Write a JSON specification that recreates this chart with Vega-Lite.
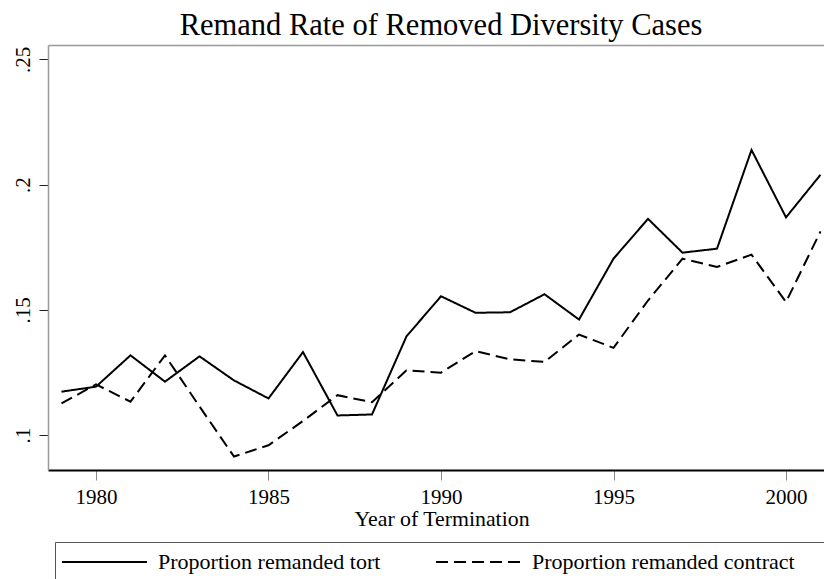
{
  "$schema": "https://vega.github.io/schema/vega-lite/v6.json",
  "width": 776,
  "height": 425,
  "autosize": {"type": "none"},
  "padding": {"left": 48, "top": 45, "right": 0, "bottom": 109},
  "background": "white",
  "config": {
    "view": {"stroke": null},
    "font": "Liberation Serif",
    "axis": {"labelFont": "Liberation Serif", "titleFont": "Liberation Serif", "grid": false}
  },
  "title": {
    "text": "Remand Rate of Removed Diversity Cases",
    "font": "Liberation Serif",
    "fontSize": 30.5,
    "fontWeight": "normal",
    "color": "#000000",
    "frame": "group",
    "anchor": "middle",
    "baseline": "alphabetic",
    "offset": -20,
    "dx": 5
  },
  "data": {
    "values": [
      {"year": 1979, "series": "Proportion remanded tort", "value": 0.1173},
      {"year": 1980, "series": "Proportion remanded tort", "value": 0.1193},
      {"year": 1981, "series": "Proportion remanded tort", "value": 0.1318},
      {"year": 1982, "series": "Proportion remanded tort", "value": 0.1213},
      {"year": 1983, "series": "Proportion remanded tort", "value": 0.1314},
      {"year": 1984, "series": "Proportion remanded tort", "value": 0.1218},
      {"year": 1985, "series": "Proportion remanded tort", "value": 0.1146},
      {"year": 1986, "series": "Proportion remanded tort", "value": 0.1331},
      {"year": 1987, "series": "Proportion remanded tort", "value": 0.1078},
      {"year": 1988, "series": "Proportion remanded tort", "value": 0.1082},
      {"year": 1989, "series": "Proportion remanded tort", "value": 0.1394},
      {"year": 1990, "series": "Proportion remanded tort", "value": 0.1554},
      {"year": 1991, "series": "Proportion remanded tort", "value": 0.1488},
      {"year": 1992, "series": "Proportion remanded tort", "value": 0.1490},
      {"year": 1993, "series": "Proportion remanded tort", "value": 0.1562},
      {"year": 1994, "series": "Proportion remanded tort", "value": 0.1461},
      {"year": 1995, "series": "Proportion remanded tort", "value": 0.1704},
      {"year": 1996, "series": "Proportion remanded tort", "value": 0.1863},
      {"year": 1997, "series": "Proportion remanded tort", "value": 0.1728},
      {"year": 1998, "series": "Proportion remanded tort", "value": 0.1744},
      {"year": 1999, "series": "Proportion remanded tort", "value": 0.2138},
      {"year": 2000, "series": "Proportion remanded tort", "value": 0.1869},
      {"year": 2001, "series": "Proportion remanded tort", "value": 0.2039},
      {"year": 1979, "series": "Proportion remanded contract", "value": 0.1126},
      {"year": 1980, "series": "Proportion remanded contract", "value": 0.1202},
      {"year": 1981, "series": "Proportion remanded contract", "value": 0.1133},
      {"year": 1982, "series": "Proportion remanded contract", "value": 0.1318},
      {"year": 1983, "series": "Proportion remanded contract", "value": 0.1114},
      {"year": 1984, "series": "Proportion remanded contract", "value": 0.0914},
      {"year": 1985, "series": "Proportion remanded contract", "value": 0.0959},
      {"year": 1986, "series": "Proportion remanded contract", "value": 0.1056},
      {"year": 1987, "series": "Proportion remanded contract", "value": 0.1159},
      {"year": 1988, "series": "Proportion remanded contract", "value": 0.1131},
      {"year": 1989, "series": "Proportion remanded contract", "value": 0.1258},
      {"year": 1990, "series": "Proportion remanded contract", "value": 0.1249},
      {"year": 1991, "series": "Proportion remanded contract", "value": 0.1335},
      {"year": 1992, "series": "Proportion remanded contract", "value": 0.1302},
      {"year": 1993, "series": "Proportion remanded contract", "value": 0.1292},
      {"year": 1994, "series": "Proportion remanded contract", "value": 0.1401},
      {"year": 1995, "series": "Proportion remanded contract", "value": 0.1348},
      {"year": 1996, "series": "Proportion remanded contract", "value": 0.1537},
      {"year": 1997, "series": "Proportion remanded contract", "value": 0.1704},
      {"year": 1998, "series": "Proportion remanded contract", "value": 0.1671},
      {"year": 1999, "series": "Proportion remanded contract", "value": 0.1720},
      {"year": 2000, "series": "Proportion remanded contract", "value": 0.1531},
      {"year": 2001, "series": "Proportion remanded contract", "value": 0.1813}
    ]
  },
  "resolve": {"axis": {"x": "independent", "y": "independent"}},
  "layer": [
    {
      "mark": {"type": "line", "color": "#000000", "strokeWidth": 2, "clip": true},
      "encoding": {
        "x": {
          "field": "year",
          "type": "quantitative",
          "scale": {"domain": [1978.609, 2001.101], "nice": false, "zero": false},
          "axis": {
            "orient": "bottom",
            "values": [1980, 1985, 1990, 1995, 2000],
            "format": "d",
            "domainColor": "#000000",
            "domainWidth": 2,
            "tickColor": "#888888",
            "tickSize": 10,
            "tickWidth": 1,
            "labelFontSize": 21,
            "labelColor": "#000000",
            "labelPadding": 6,
            "labelFlush": false,
            "title": "Year of Termination",
            "titleFontSize": 21.8,
            "titleFontWeight": "normal",
            "titleColor": "#000000",
            "titleX": 393.5,
            "titleY": 55.7,
            "titleBaseline": "alphabetic",
            "titleAnchor": "middle",
            "titleAlign": "center"
          }
        },
        "y": {
          "field": "value",
          "type": "quantitative",
          "scale": {"domain": [0.08603, 0.25571], "nice": false, "zero": false},
          "axis": {
            "orient": "left",
            "values": [0.1, 0.15, 0.2, 0.25],
            "labelExpr": "substring(format(datum.value, '.2~f'), 1)",
            "labelAngle": -90,
            "labelAlign": "center",
            "labelBaseline": "bottom",
            "labelFontSize": 21,
            "labelColor": "#000000",
            "labelPadding": 6,
            "domainColor": "#999999",
            "domainWidth": 1.5,
            "tickColor": "#222222",
            "tickSize": 9,
            "tickWidth": 1,
            "title": null
          }
        },
        "detail": {"field": "series", "type": "nominal"},
        "strokeDash": {
          "field": "series",
          "type": "nominal",
          "scale": {
            "domain": ["Proportion remanded tort", "Proportion remanded contract"],
            "range": [[1, 0], [12, 6]]
          },
          "legend": {
            "orient": "none",
            "legendX": 7,
            "legendY": 497,
            "direction": "horizontal",
            "columns": 2,
            "title": " ",
            "titleOrient": "right",
            "titlePadding": 28,
            "titleFontSize": 22,
            "symbolType": "M-1.3,0H7.2",
            "symbolSize": 400,
            "symbolStrokeWidth": 2,
            "symbolStrokeColor": "#000000",
            "symbolFillColor": "transparent",
            "labelFont": "Liberation Serif",
            "labelFontSize": 22,
            "labelColor": "#000000",
            "labelOffset": 72,
            "labelLimit": 0,
            "columnPadding": 51,
            "padding": 9,
            "strokeColor": "#555555"
          }
        }
      }
    },
    {
      "mark": {"type": "line", "opacity": 0},
      "encoding": {
        "x": {
          "field": "year",
          "type": "quantitative",
          "axis": {"orient": "top", "labels": false, "ticks": false, "domainColor": "#999999", "domainWidth": 1.5, "title": null, "grid": false}
        },
        "y": {
          "field": "value",
          "type": "quantitative",
          "axis": null
        },
        "detail": {"field": "series", "type": "nominal"}
      }
    }
  ]
}
